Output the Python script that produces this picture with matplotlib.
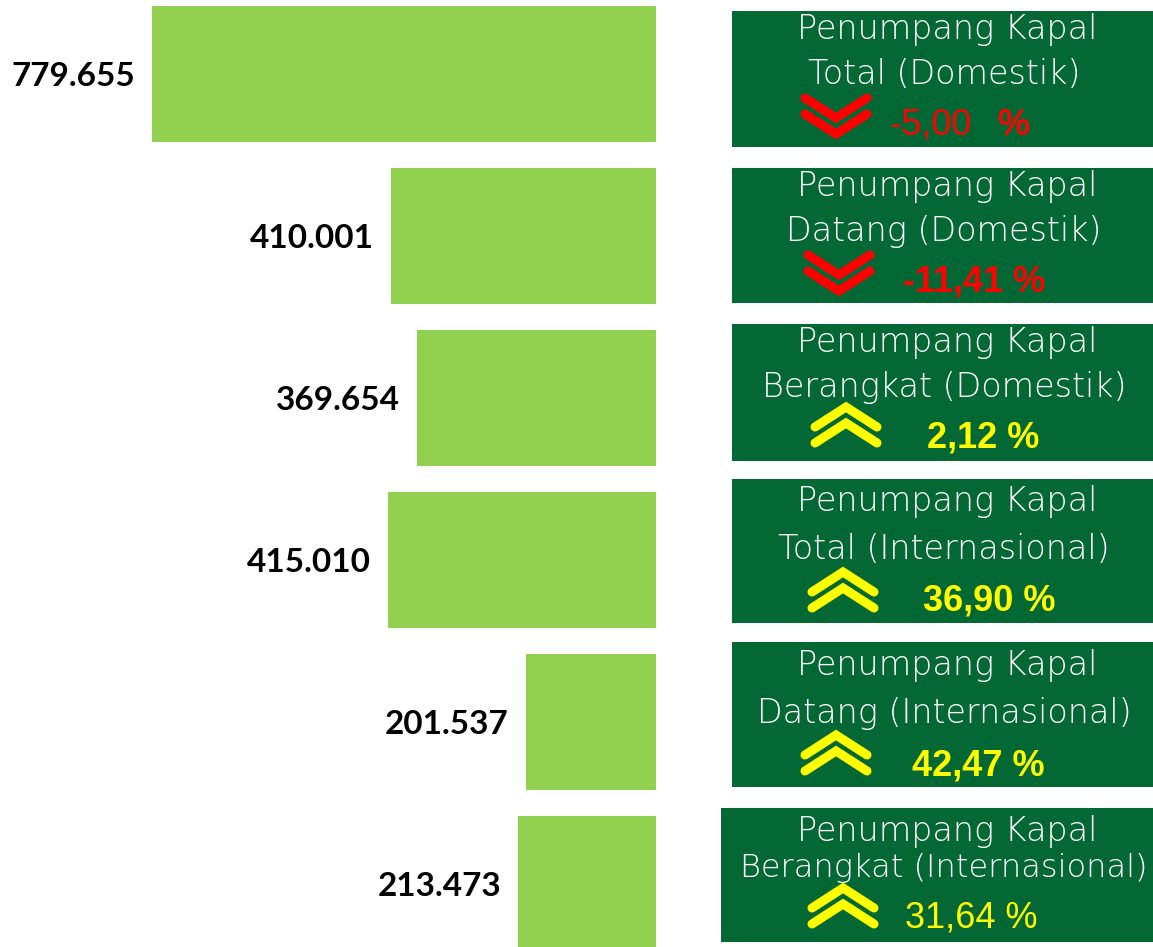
import matplotlib.pyplot as plt
import numpy as np

# data
values = [779655, 410001, 369654, 415010, 201537, 213473]
value_labels = ["779.655", "410.001", "369.654", "415.010", "201.537", "213.473"]
titles = [
    ("Penumpang Kapal", "Total (Domestik)"),
    ("Penumpang Kapal", "Datang (Domestik)"),
    ("Penumpang Kapal", "Berangkat (Domestik)"),
    ("Penumpang Kapal", "Total (Internasional)"),
    ("Penumpang Kapal", "Datang (Internasional)"),
    ("Penumpang Kapal", "Berangkat (Internasional)"),
]
changes = ["-5,00", "-11,41", "2,12", "36,90", "42,47", "31,64"]
direction = ["down", "down", "up", "up", "up", "up"]

W, H = 1153, 947
bar_green = "#92D050"
box_green = "#036834"

fig = plt.figure(figsize=(W / 100, H / 100), dpi=100)

# bars: zero on the right at x=656px, growing to the left
ax = fig.add_axes([0, 0, 656 / W, 1])
ypos = np.arange(len(values))
ax.barh(ypos, values, height=0.84, color=bar_green)
ax.set_xlim(1015000, 0)
ax.set_ylim((H - 74) / 162, -74 / 162)
ax.axis("off")
for y, v, lab in zip(ypos, values, value_labels):
    ax.annotate(lab, (v, y), xytext=(-17, -2), textcoords="offset pixels",
                ha="right", va="center", fontsize=24, fontweight="bold",
                family="Lato", color="black")

# boxes on the right, laid out in pixels
ov = fig.add_axes([0, 0, 1, 1])
ov.set_xlim(0, W)
ov.set_ylim(H, 0)
ov.axis("off")

box_x = [732, 732, 732, 732, 732, 721]
box_top = [11, 168, 324, 479, 642, 808]
box_bot = [147, 303, 461, 623, 787, 942]
line_off = [(18, 63, 114), (18, 63, 114), (18, 63, 114),
            (22, 70, 122), (23, 71, 124), (23, 60, 110)]
pct_x = [889, 903, 927, 923, 912, 905]
chev_x = [805, 808, 815, 812, 805, 812]
chev_y = [98, 255, 407, 572, 735, 888]

for i in range(len(values)):
    x0, t, b = box_x[i], box_top[i], box_bot[i]
    ov.add_patch(plt.Rectangle((x0, t), W - x0, b - t, color=box_green, lw=0))
    l1, l2, l3 = line_off[i]
    ov.text(947, t + l1, titles[i][0], ha="center", va="center", color="white",
            fontsize=24, family="DejaVu Sans", fontweight="light")
    fs2 = 23 if len(titles[i][1]) > 22 else 24
    ov.text(944, t + l2, titles[i][1], ha="center", va="center", color="white",
            fontsize=fs2, family="DejaVu Sans", fontweight="light")

    col = "#FF0000" if direction[i] == "down" else "#FFFF00"
    cx, cy = chev_x[i], chev_y[i]
    w, h, gap = 62, 20, 16
    for k in range(2):
        yy = cy + k * gap
        if direction[i] == "down":
            xs, ys = [cx, cx + w / 2, cx + w], [yy, yy + h, yy]
        else:
            xs, ys = [cx, cx + w / 2, cx + w], [yy + h, yy, yy + h]
        ov.plot(xs, ys, color=col, lw=6.5, solid_capstyle="round",
                solid_joinstyle="miter")

    if i == 0:
        ov.text(pct_x[i], t + l3, changes[i], ha="left", va="center", color=col,
                fontsize=26, family="Liberation Sans")
        ov.text(997, t + l3, "%", ha="left", va="center", color=col,
                fontsize=26, family="Liberation Sans", fontweight="bold")
    elif i == 5:
        ov.text(pct_x[i], t + l3, changes[i] + " %", ha="left", va="center",
                color=col, fontsize=26, family="Liberation Sans")
    else:
        ov.text(pct_x[i], t + l3, changes[i] + " %", ha="left", va="center",
                color=col, fontsize=26, family="Liberation Sans", fontweight="bold")

fig.savefig("out.png", dpi=100)
